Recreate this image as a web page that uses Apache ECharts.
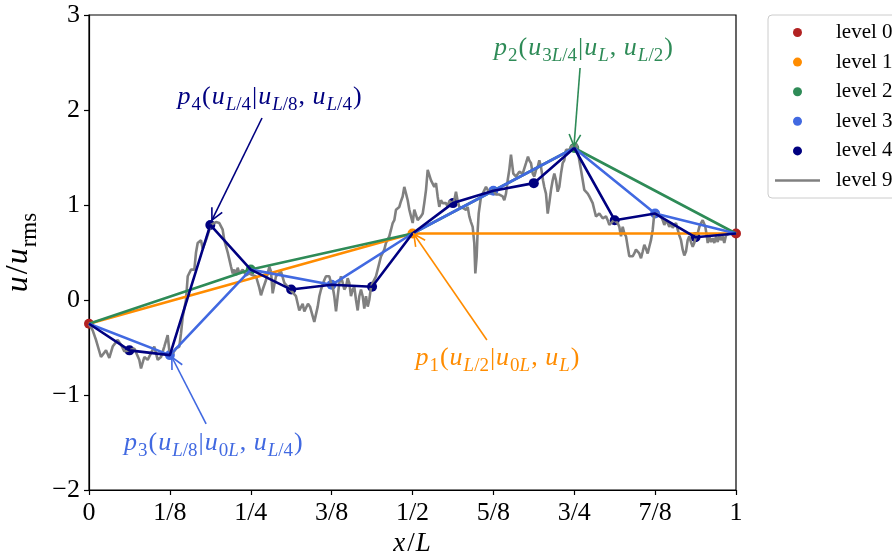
<!DOCTYPE html>
<html><head><meta charset="utf-8">
<script src="https://cdn.jsdelivr.net/npm/echarts@6/dist/echarts.min.js"></script>
<style>html,body{margin:0;padding:0;background:#fff}#c{width:892px;height:558px}</style>
</head><body><div id="c"></div>
<script>
// ---------------- data ----------------
const xTickLabels = ['0','1/8','1/4','3/8','1/2','5/8','3/4','7/8','1'];
const yTickValues = [-2,-1,0,1,2,3];

const level0X = [0, 1];            const level0Y = [-0.25, 0.70];
const level1X = [0.5];             const level1Y = [0.70];
const level2X = [0.25, 0.75];      const level2Y = [0.32, 1.60];
const level3X = [0.125, 0.375, 0.625, 0.875];
const level3Y = [-0.58, 0.16, 1.15, 0.91];
const level4X = [0.0625, 0.1875, 0.3125, 0.4375, 0.5625, 0.6875, 0.8125, 0.9375];
const level4Y = [-0.53, 0.79, 0.11, 0.14, 1.02, 1.23, 0.84, 0.66];

const level9 = [
[0,-0.25],[0.003,-0.24],[0.0057,-0.32],[0.0108,-0.42],[0.0185,-0.60],[0.0263,-0.53],[0.0314,-0.61],[0.0366,-0.49],[0.0444,-0.42],[0.0495,-0.47],[0.0546,-0.54],[0.0623,-0.53],[0.0700,-0.51],[0.0777,-0.63],[0.0804,-0.72],[0.0855,-0.60],[0.0907,-0.63],[0.0958,-0.56],[0.1009,-0.49],[0.1062,-0.63],[0.1113,-0.60],[0.1164,-0.49],[0.1216,-0.37],[0.1241,-0.53],[0.1294,-0.56],[0.1345,-0.51],[0.1396,-0.49],[0.1422,-0.35],[0.1448,-0.18],[0.1499,0.00],[0.1526,0.25],[0.1577,0.32],[0.1628,0.32],[0.1654,0.50],[0.1680,0.60],
[0.1731,0.63],[0.1757,0.54],[0.1808,0.63],[0.1886,0.79],[0.1963,0.82],[0.2014,0.81],[0.2066,0.74],[0.2091,0.63],[0.2144,0.50],[0.2195,0.35],[0.2221,0.28],[0.2246,0.32],[0.2272,0.26],[0.2298,0.34],[0.2323,0.28],[0.2376,0.32],[0.2427,0.26],[0.2478,0.28],[0.2530,0.26],[0.2581,0.25],[0.2632,0.13],[0.2658,0.05],[0.2685,0.11],[0.2736,0.21],[0.2787,0.35],[0.2813,0.30],[0.2839,0.07],[0.2890,0.25],[0.2968,0.30],[0.3019,0.18],[0.3096,0.12],[0.3199,0.04],[0.3250,-0.11],[0.3303,-0.04],[0.3328,-0.12],[0.3385,-0.04],
[0.3416,-0.07],[0.3482,-0.23],[0.3509,-0.21],[0.3535,-0.07],[0.3560,0.04],[0.3586,0.11],[0.3637,0.21],[0.3663,0.25],[0.3689,0.26],[0.3714,0.25],[0.3740,0.18],[0.3767,0.14],[0.3791,0.04],[0.3818,-0.12],[0.3844,0.04],[0.3869,0.18],[0.3895,0.25],[0.3921,0.18],[0.3946,0.11],[0.3972,0.14],[0.3998,0.23],[0.4023,0.18],[0.4049,0.04],[0.4076,0.11],[0.4100,0.14],[0.4127,0.00],[0.4153,-0.11],[0.4178,0.04],[0.4204,0.11],[0.4230,0.04],[0.4255,-0.09],[0.4281,0.04],[0.4308,-0.07],[0.4332,0.00],[0.4359,0.14],[0.4385,0.18],[0.4436,0.25],[0.4487,0.39],[0.4513,0.46],[0.4539,0.46],[0.4564,0.53],[0.4590,0.60],[0.4641,0.67],[0.4668,0.74],[0.4694,0.81],[0.4719,0.84],[0.4745,0.95],[0.4771,0.95],[0.4796,0.98],[0.4822,1.04],[0.4848,1.09],[0.4873,1.19],[0.4900,1.12],[0.4926,1.05],[0.4951,0.95],[0.4977,0.88],[0.5003,0.81],[0.5028,0.95],[0.5054,0.95],
[0.5080,0.84],[0.5105,0.82],[0.5131,0.88],[0.5158,0.91],[0.5182,1.02],[0.5209,1.16],[0.5235,1.37],[0.5260,1.39],[0.5286,1.26],[0.5312,1.25],[0.5337,1.19],[0.5363,1.23],[0.5389,1.09],[0.5414,0.98],[0.5440,1.05],[0.5467,1.02],[0.5492,1.04],[0.5518,1.02],[0.5544,0.98],[0.5569,1.04],[0.5595,1.05],[0.5621,1.02],[0.5646,1.05],[0.5672,1.14],[0.5699,1.04],[0.5723,0.98],[0.5776,0.97],[0.5827,0.95],[0.5853,0.98],[0.5878,0.88],[0.5904,0.82],[0.5930,0.77],[0.5955,0.60],[0.5971,0.28],[0.5992,0.46],[0.6008,0.74],[0.6023,0.91],[0.6059,1.09],[0.6085,1.12],[0.6110,1.14],[0.6136,1.19],[0.6162,1.16],[0.6187,1.12],[0.6240,1.16],[0.6291,1.11],[0.6342,1.11],[0.6368,1.12],[0.6394,1.09],[0.6419,1.05],[0.6445,1.12],[0.6471,1.26],[0.6496,1.37],[0.6522,1.53],[0.6549,1.51],[0.6558,1.33],[0.6600,1.30],[0.6651,1.35],[0.6703,1.33],[0.6754,1.44],[0.6785,1.51],
[0.6805,1.47],[0.6832,1.44],[0.6858,1.33],[0.6883,1.30],[0.6909,1.37],[0.6935,1.40],[0.6960,1.47],[0.6986,1.40],[0.7017,1.26],[0.7037,1.19],[0.7063,1.12],[0.7090,0.91],[0.7114,1.02],[0.7141,1.16],[0.7167,1.26],[0.7192,1.33],[0.7218,1.26],[0.7244,1.14],[0.7269,1.19],[0.7295,1.33],[0.7321,1.44],[0.7346,1.47],[0.7372,1.58],[0.7399,1.60],[0.7423,1.58],[0.7450,1.61],[0.7476,1.63],[0.7527,1.65],[0.7553,1.58],[0.7578,1.47],[0.7604,1.37],[0.7631,1.26],[0.7655,1.16],[0.7682,1.18],[0.7708,1.12],[0.7733,1.09],[0.7759,1.11],[0.7785,1.02],[0.7810,0.95],[0.7836,0.88],[0.7862,0.86],[0.7887,0.91],[0.7913,0.90],[0.7940,0.86],[0.7991,0.88],[0.8017,0.84],[0.8042,0.79],[0.8068,0.77],[0.8114,0.84],[0.8172,0.81],[0.8196,0.77],[0.8223,0.67],[0.8249,0.77],[0.8274,0.70],[0.8300,0.67],[0.8326,0.56],[0.8351,0.46],[0.8377,0.47],[0.8403,0.46],[0.8428,0.49],[0.8454,0.53],
[0.8481,0.54],[0.8505,0.49],[0.8532,0.44],[0.8558,0.51],[0.8583,0.58],[0.8609,0.54],[0.8635,0.49],[0.8660,0.56],[0.8686,0.63],[0.8713,0.74],[0.8737,0.91],[0.8764,0.93],[0.8790,0.91],[0.8815,0.93],[0.8841,0.88],[0.8867,0.84],[0.8892,0.79],[0.8918,0.84],[0.8944,0.81],[0.8969,0.77],[0.8995,0.81],[0.9022,0.76],[0.9046,0.77],[0.9073,0.81],[0.9099,0.74],[0.9124,0.68],[0.9150,0.63],[0.9176,0.53],[0.9201,0.47],[0.9227,0.51],[0.9253,0.63],[0.9278,0.67],[0.9304,0.61],[0.9331,0.56],[0.9355,0.60],[0.9382,0.67],[0.9408,0.70],[0.9433,0.77],[0.9459,0.81],[0.9485,0.84],[0.9510,0.86],[0.9526,0.77],[0.9547,0.68],[0.9563,0.60],[0.9587,0.67],[0.9614,0.61],[0.9640,0.65],[0.9665,0.60],[0.9691,0.67],[0.9717,0.61],[0.9742,0.68],[0.9768,0.63],[0.9794,0.67],[0.9819,0.60],[0.9845,0.68],[0.9872,0.67],[0.9896,0.70],[0.9923,0.68],[0.9949,0.70],[1,0.70]
];

// annotation texts (rich-text markup) and the points they point at
const annTexts = [
  '{i|p}{s|4}{r|(}{i|u}{si|L}{s|/4}{r||}{i|u}{si|L}{s|/8}{r|, }{i|u}{si|L}{s|/4}{r|)}',
  '{i|p}{s|2}{r|(}{i|u}{s|3}{si|L}{s|/4}{r||}{i|u}{si|L}{r|, }{i|u}{si|L}{s|/2}{r|)}',
  '{i|p}{s|1}{r|(}{i|u}{si|L}{s|/2}{r||}{i|u}{s|0}{si|L}{r|, }{i|u}{si|L}{r|)}',
  '{i|p}{s|3}{r|(}{i|u}{si|L}{s|/8}{r||}{i|u}{s|0}{si|L}{r|, }{i|u}{si|L}{s|/4}{r|)}'
];
const annTargetX = [0.19, 0.7496, 0.502, 0.128];
const annTargetY = [0.84, 1.62, 0.695, -0.60];

// ---------------- layout / style ----------------
const FONT = '"Liberation Serif", "DejaVu Serif", serif';
const COLORS = ['#b22222', '#ff8c00', '#2e8b57', '#4169e1', '#000080'];
const GREY = '#808080';
const annColors = ['#000080', '#2e8b57', '#ff8c00', '#4169e1'];
const annTextPos = [[0.2798, 2.137], [0.765, 2.653], [0.632, -0.61], [0.193, -1.505]];
const annTailPos = [[0.2674, 1.916], [0.759, 2.442], [0.615, -0.421], [0.181, -1.305]];

const levelsX = [level0X, level1X, level2X, level3X, level4X];
const levelsY = [level0Y, level1Y, level2Y, level3Y, level4Y];

function pairs(xs, ys) { return xs.map((x, i) => [x, ys[i]]); }
function cumulative(k) {
  let pts = [];
  for (let j = 0; j <= k; j++) pts = pts.concat(pairs(levelsX[j], levelsY[j]));
  return pts.sort((a, b) => a[0] - b[0]);
}

function richFor(color, size) {
  const sub = Math.round(size * 0.72);
  const lh = Math.round(size * 1.4);
  return {
    i: {fontFamily: FONT, fontStyle: 'italic', fontSize: size, lineHeight: lh, fill: color, color: color, padding: [0, 1, 0, 0]},
    r: {fontFamily: FONT, fontSize: size, lineHeight: lh, fill: color, color: color, padding: [0, 1, 0, 1]},
    s: {fontFamily: FONT, fontSize: sub, lineHeight: lh, verticalAlign: 'bottom', fill: color, color: color},
    si: {fontFamily: FONT, fontStyle: 'italic', fontSize: sub, lineHeight: lh, verticalAlign: 'bottom', fill: color, color: color}
  };
}

const series = [];
series.push({
  type: 'line', name: 'level 9', data: level9, symbol: 'none', showSymbol: false,
  lineStyle: {color: GREY, width: 2.6}, itemStyle: {color: GREY}, silent: true
});
for (let k = 0; k <= 4; k++) {
  if (k > 0) {
    series.push({
      type: 'line', name: 'line' + k, data: cumulative(k), symbol: 'none', showSymbol: false,
      lineStyle: {color: COLORS[k], width: 2.6}, silent: true
    });
  }
  series.push({
    type: 'scatter', name: 'level ' + k, data: pairs(levelsX[k], levelsY[k]),
    symbol: 'circle', symbolSize: 10, itemStyle: {color: COLORS[k], opacity: 1}, silent: true
  });
}

const chart = echarts.init(document.getElementById('c'), null, {renderer: 'canvas'});
const option = {
  animation: false,
  backgroundColor: '#ffffff',
  grid: {left: 89, right: 156, top: 15, bottom: 68, show: true, borderColor: '#000', borderWidth: 1.2,
    containLabel: false, outerBoundsMode: 'none'},
  xAxis: {
    type: 'value', min: 0, max: 1, interval: 0.125,
    name: '{i|x}{r|/}{i|L}', nameLocation: 'middle', nameGap: 35,
    nameTextStyle: {rich: richFor('#000', 27)},
    axisLine: {show: true, onZero: false, lineStyle: {color: '#000', width: 1.2}},
    axisTick: {show: true, inside: false, length: 5, lineStyle: {color: '#000', width: 1.2}},
    axisLabel: {margin: 10, color: '#000', fontFamily: FONT, fontSize: 26,
      formatter: v => xTickLabels[Math.round(v * 8)]},
    splitLine: {show: false}
  },
  yAxis: {
    type: 'value', min: yTickValues[0], max: yTickValues[yTickValues.length - 1], interval: 1,
    name: '{i|u}{r|/}{i|u}{s|rms}', nameLocation: 'middle', nameGap: 40, nameRotate: 90,
    nameTextStyle: {rich: richFor('#000', 32)},
    axisLine: {show: true, onZero: false, lineStyle: {color: '#000', width: 1.2}},
    axisTick: {show: true, inside: false, length: 5, lineStyle: {color: '#000', width: 1.2}},
    axisLabel: {margin: 9, color: '#000', fontFamily: FONT, fontSize: 26,
      formatter: v => (v < 0 ? '\u2212' + Math.abs(v) : String(v))},
    splitLine: {show: false}
  },
  legend: {
    orient: 'vertical', left: 768, top: 15, padding: [7, 10, 7, 7],
    itemWidth: 45, itemHeight: 9, itemGap: 8.6,
    borderColor: '#cccccc', borderWidth: 1, borderRadius: 4, backgroundColor: '#fff',
    textStyle: {fontFamily: FONT, fontSize: 21, color: '#000', padding: [0, 0, 0, 11]},
    data: [
      {name: 'level 0', icon: 'circle'}, {name: 'level 1', icon: 'circle'},
      {name: 'level 2', icon: 'circle'}, {name: 'level 3', icon: 'circle'},
      {name: 'level 4', icon: 'circle'},
      {name: 'level 9', icon: 'path://M0,0L45,0L45,2.6L0,2.6Z'}
    ]
  },
  series: series
};
chart.setOption(option);

// annotations (text + open arrow) placed through the axes' scales
const graphics = [];
for (let a = 0; a < annTexts.length; a++) {
  const c = annColors[a];
  const tp = chart.convertToPixel({gridIndex: 0}, annTextPos[a]);
  const tail = chart.convertToPixel({gridIndex: 0}, annTailPos[a]);
  const head = chart.convertToPixel({gridIndex: 0}, [annTargetX[a], annTargetY[a]]);
  graphics.push({
    type: 'text', z: 10,
    style: {x: tp[0], y: tp[1], text: annTexts[a], rich: richFor(c, 26), fill: c,
      align: 'center', verticalAlign: 'middle', textAlign: 'center', textVerticalAlign: 'middle'}
  });
  graphics.push({
    type: 'line', z: 10,
    shape: {x1: tail[0], y1: tail[1], x2: head[0], y2: head[1]},
    style: {stroke: c, lineWidth: 1.6}
  });
  const dx = head[0] - tail[0], dy = head[1] - tail[1];
  const len = Math.sqrt(dx * dx + dy * dy);
  const ux = dx / len, uy = dy / len;
  const L = 13, th = 0.46;
  const cs = Math.cos(th), sn = Math.sin(th);
  const a1 = [head[0] - L * (ux * cs - uy * sn), head[1] - L * (uy * cs + ux * sn)];
  const a2 = [head[0] - L * (ux * cs + uy * sn), head[1] - L * (uy * cs - ux * sn)];
  graphics.push({
    type: 'polyline', z: 10,
    shape: {points: [a1, head.slice(), a2]},
    style: {stroke: c, lineWidth: 1.6, fill: null}
  });
}
chart.setOption({graphic: graphics});
</script></body></html>
